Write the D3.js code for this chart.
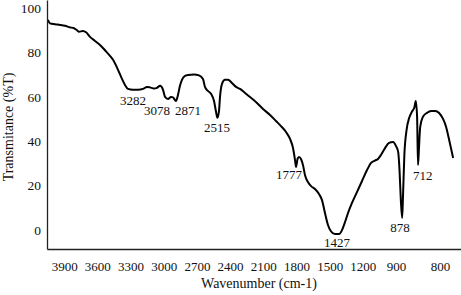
<!DOCTYPE html>
<html>
<head>
<meta charset="utf-8">
<script src="https://cdn.jsdelivr.net/npm/d3@7"></script>
<style>
  body { margin: 0; background: #fff; }
  text { font-family: "Liberation Serif", serif; fill: #111; }
</style>
</head>
<body>
<script>
width = 461
height = 295

// wavenumber, transmittance in %T
wavenumber = [4046, 4028, 3983, 3937, 3892, 3847, 3811, 3784, 3766, 3730, 3702, 3666, 3621, 3576, 3531, 3486, 3458, 3413, 3377, 3350,
  3323, 3278, 3232, 3187, 3151, 3124, 3088, 3061, 3033, 3006, 2988, 2961, 2934, 2916, 2889, 2871, 2853, 2835, 2807, 2780,
  2726, 2681, 2645, 2627, 2600, 2572, 2545, 2527, 2514, 2500, 2491, 2473, 2446, 2419, 2383, 2346, 2310, 2265, 2211, 2157,
  2102, 2039, 1985, 1940, 1894, 1858, 1831, 1813, 1804, 1790, 1777, 1759, 1741, 1723, 1696, 1668, 1632, 1596, 1569, 1542,
  1515, 1488, 1451, 1415, 1388, 1361, 1334, 1298, 1253, 1207, 1162, 1126, 1090, 1063, 1036, 999, 963, 927, 900, 895,
  892, 889, 886, 884, 881, 876, 870, 864, 858, 855, 852, 850, 848, 845, 839, 830, 820, 811, 802, 793,
  786, 780, 775, 770]
transmittance = [94.6, 93.0, 92.6, 92.3, 91.9, 91.2, 90.8, 89.9, 89.2, 89.6, 89.0, 86.9, 85.1, 83.3, 80.9, 78.4, 76.6, 72.1, 68.0, 65.3,
  63.5, 63.1, 63.1, 63.5, 64.4, 64.2, 63.7, 64.0, 64.9, 63.1, 59.9, 59.0, 59.9, 59.7, 58.1, 60.8, 64.9, 67.6, 69.4, 69.8,
  70.0, 69.6, 68.0, 64.4, 62.6, 61.3, 58.1, 53.2, 50.5, 53.6, 59.9, 65.8, 67.6, 67.6, 66.2, 64.4, 63.5, 61.7, 59.5, 57.2,
  54.5, 51.8, 49.1, 46.8, 44.1, 41.0, 36.9, 31.5, 28.4, 32.0, 32.9, 32.0, 29.3, 24.8, 21.6, 19.8, 18.5, 16.2, 13.5, 7.7,
  2.3, -0.5, -1.8, -1.8, 0, 3.6, 7.7, 12.2, 17.1, 22.1, 27.0, 30.2, 31.3, 32.0, 33.8, 36.9, 39.2, 39.6, 37.8, 35.1,
  27.0, 13.5, 5.4, 15.8, 33.8, 45.0, 50.5, 53.2, 55.4, 58.1, 50.5, 29.3, 36.0, 46.4, 50.9, 52.7, 53.6, 53.6, 52.7, 50.0,
  46.4, 41.4, 36.9, 32.4]

xTicks = [3900, 3600, 3300, 3000, 2700, 2400, 2100, 1800, 1500, 1200, 900, 800]
yTicks = [0, 20, 40, 60, 80, 100]

peakLabels = ["3282", "3078", "2871", "2515", "1777", "1427", "878", "712"]
peakX = [3278, 3061, 2780, 2518, 1867, 1433, 891, 839]
peakY = [56.3, 51.8, 51.8, 44.1, 23.0, -7.7, -0.9, 22.5]

data = wavenumber.map((w, i) => ({w: w, t: transmittance[i]}))

// axis is stretched below 900
x = d3.scaleLinear()
  .domain([4055, 900, 800, 752])
  .range([47, 396, 440, 461])

y = d3.scaleLinear()
  .domain([-8.5, 103.5])
  .range([249, 0])

const svg = d3.select("body").append("svg")
  .attr("width", width)
  .attr("height", height)

svg.append("path")
  .datum(data)
  .attr("fill", "none")
  .attr("stroke", "#000")
  .attr("stroke-width", 2)
  .attr("stroke-linejoin", "round")
  .attr("d", d3.line()
    .x(d => x(d.w))
    .y(d => y(d.t))
    .curve(d3.curveMonotoneX))

svg.append("g")
  .attr("transform", `translate(0,${y.range()[0]})`)
  .call(d3.axisBottom(x).tickValues(xTicks).tickSize(0).tickPadding(13).tickFormat(d3.format("d")))
  .call(g => g.select(".domain").attr("stroke", "#222").attr("stroke-width", 1.3))
  .call(g => g.selectAll("text").attr("font-size", 13).attr("font-family", "Liberation Serif"))

svg.append("g")
  .attr("transform", `translate(${x.range()[0]},0)`)
  .call(d3.axisLeft(y).tickValues(yTicks).tickSize(0).tickPadding(6))
  .call(g => g.select(".domain").attr("stroke", "#222").attr("stroke-width", 1.3))
  .call(g => g.selectAll("text").attr("font-size", 13.5).attr("font-family", "Liberation Serif"))

svg.append("g")
  .selectAll("text")
  .data(peakLabels)
  .join("text")
    .attr("x", (d, i) => x(peakX[i]))
    .attr("y", (d, i) => y(peakY[i]))
    .attr("text-anchor", "middle")
    .attr("font-size", 13)
    .text(d => d)

svg.append("text")
  .attr("x", 259)
  .attr("y", 288)
  .attr("text-anchor", "middle")
  .attr("font-size", 14)
  .text("Wavenumber (cm-1)")

svg.append("text")
  .attr("transform", "translate(13,127) rotate(-90)")
  .attr("text-anchor", "middle")
  .attr("font-size", 14)
  .text("Transmitance (%T)")
</script>
</body>
</html>
